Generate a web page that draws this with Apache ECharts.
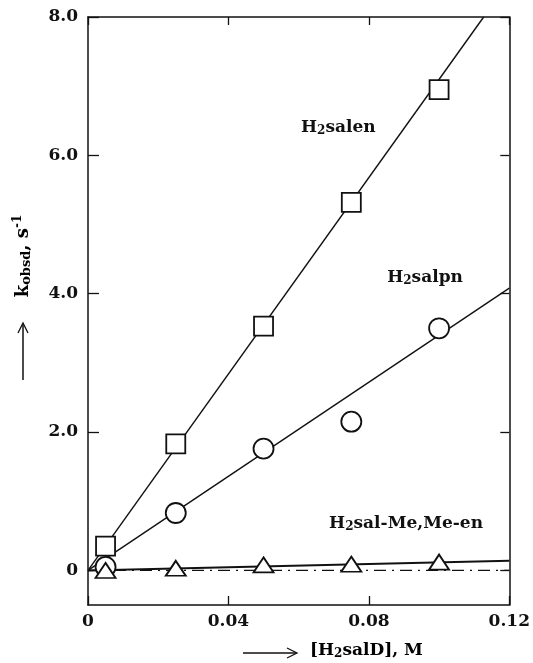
<!DOCTYPE html>
<html>
<head>
<meta charset="utf-8">
<script src="https://cdn.jsdelivr.net/npm/echarts@6/dist/echarts.min.js"></script>
<style>
  html, body { margin: 0; padding: 0; background: #fff; }
  #chart { width: 533px; height: 663px; }
</style>
</head>
<body>
<div id="chart"></div>
<script>
// measured points, x = [H2salD] (M), y = kobsd (s-1)
const concX = [0.005, 0.025, 0.05, 0.075, 0.1];
const salenY = [0.35, 1.83, 3.53, 5.32, 6.95];
const salpnY = [0.05, 0.83, 1.76, 2.15, 3.5];
const salMeY = [0.0, 0.03, 0.08, 0.09, 0.12];

// drawn straight lines (end points)
const salenFit = [[0, 0], [0.1127, 8.0]];
const salpnFit = [[0, 0], [0.12, 4.08]];
const salMeFit = [[0, 0], [0.12, 0.14]];
const zeroLine = [[0, 0], [0.12, 0]];

const yTicks = [0, 2, 4, 6, 8];

// curve labels: [x, y, text]
const notes = [
  [0.0713, 6.4, '{a|H}{s|2}{a|salen}'],
  [0.096, 4.23, '{a|H}{s|2}{a|salpn}'],
  [0.0906, 0.67, '{a|H}{s|2}{a|sal-Me,Me-en}']
];

const FONT = '"DejaVu Serif", "Liberation Serif", serif';
const INK = '#111';
const richTxt = {
  a: { fontFamily: FONT, fontWeight: 'bold', fontSize: 17, color: INK },
  s: { fontFamily: FONT, fontWeight: 'bold', fontSize: 12, color: INK, padding: [6, 0, 0, 0] }
};

function xLabel(v) {
  if (v === 0) return '0';
  return v.toFixed(2);
}
function yLabel(v) {
  if (v === 0) return '0';
  return v.toFixed(1);
}

let chart = echarts.init(document.getElementById('chart'));

const markerStyle = { color: '#fff', borderColor: INK, borderWidth: 1.8, opacity: 1 };
const fitStyle = { color: INK, width: 1.4 };

function pts(ys) {
  return concX.map((x, i) => [x, ys[i]]);
}

function frameAxis(extra) {
  return Object.assign({
    axisLine: { show: true, onZero: false, lineStyle: { color: INK, width: 1.5 } },
    splitLine: { show: false }
  }, extra);
}

const option = {
  animation: false,
  backgroundColor: '#fff',
  grid: { left: 88, right: 18, top: 17, bottom: 58 },
  xAxis: [
    frameAxis({
      type: 'value', min: 0, max: 0.12, interval: 0.04,
      axisTick: { show: true, inside: true, length: 9, lineStyle: { color: INK, width: 1.3 } },
      axisLabel: {
        formatter: xLabel, margin: 8, color: INK,
        fontFamily: FONT, fontWeight: 'bold', fontSize: 17
      }
    }),
    frameAxis({
      type: 'value', position: 'top', min: 0, max: 0.12, interval: 0.04,
      axisTick: { show: true, inside: true, length: 8, lineStyle: { color: INK, width: 1.3 } },
      axisLabel: { show: false }
    })
  ],
  yAxis: [
    frameAxis({
      type: 'value', min: -0.5, max: 8,
      axisTick: { show: true, inside: true, length: 11, customValues: yTicks, lineStyle: { color: INK, width: 1.3 } },
      axisLabel: {
        customValues: yTicks, formatter: yLabel, margin: 10, color: INK,
        fontFamily: FONT, fontWeight: 'bold', fontSize: 17
      }
    }),
    frameAxis({
      type: 'value', position: 'right', min: -0.5, max: 8,
      axisTick: { show: true, inside: true, length: 9, customValues: yTicks, lineStyle: { color: INK, width: 1.3 } },
      axisLabel: { show: false }
    })
  ],
  series: [
    { type: 'line', data: zeroLine, symbol: 'none', lineStyle: { color: INK, width: 1.2, type: [12, 6, 2, 6] }, z: 1 },
    { type: 'line', data: salenFit, symbol: 'none', lineStyle: fitStyle, z: 2 },
    { type: 'line', data: salpnFit, symbol: 'none', lineStyle: fitStyle, z: 2 },
    { type: 'line', data: salMeFit, symbol: 'none', lineStyle: { color: INK, width: 2 }, z: 2 },
    { type: 'scatter', data: pts(salenY), symbol: 'rect', symbolSize: 19, itemStyle: markerStyle, z: 5 },
    { type: 'scatter', data: pts(salpnY), symbol: 'circle', symbolSize: 20, itemStyle: markerStyle, z: 5 },
    { type: 'scatter', data: pts(salMeY), symbol: 'triangle', symbolSize: [20, 15], itemStyle: markerStyle, z: 6 },
    {
      type: 'scatter', symbolSize: 0, z: 7, itemStyle: { opacity: 1 },
      data: notes.map(n => ({ value: [n[0], n[1]], label: { formatter: n[2] } })),
      label: { show: true, position: 'inside', color: INK, rich: richTxt }
    }
  ],
  graphic: [
    // y title: arrow pointing up, then k_obsd, s^-1
    { type: 'line', shape: { x1: 23, y1: 380, x2: 23, y2: 324 }, style: { stroke: INK, lineWidth: 1.5 } },
    { type: 'polyline', shape: { points: [[18, 333], [23, 323], [28, 333]] }, style: { stroke: INK, lineWidth: 1.3, fill: null } },
    {
      type: 'text', x: 23, y: 256, rotation: Math.PI / 2,
      style: {
        text: '{a|k}{s|obsd}{a|, s}{p|-1}',
        align: 'center', verticalAlign: 'middle',
        rich: {
          a: { fontFamily: FONT, fontWeight: 'bold', fontSize: 18, color: INK },
          s: { fontFamily: FONT, fontWeight: 'bold', fontSize: 13, color: INK, padding: [7, 0, 0, 0] },
          p: { fontFamily: FONT, fontWeight: 'bold', fontSize: 12, color: INK, padding: [0, 0, 10, 0] }
        }
      }
    },
    // x title: arrow pointing right, then [H2salD], M
    { type: 'line', shape: { x1: 243, y1: 653, x2: 296, y2: 653 }, style: { stroke: INK, lineWidth: 1.5 } },
    { type: 'polyline', shape: { points: [[287, 648], [297, 653], [287, 658]] }, style: { stroke: INK, lineWidth: 1.3, fill: null } },
    {
      type: 'text', x: 310, y: 651,
      style: {
        text: '{a|[H}{s|2}{a|salD], M}',
        align: 'left', verticalAlign: 'middle',
        rich: {
          a: { fontFamily: FONT, fontWeight: 'bold', fontSize: 17, color: INK },
          s: { fontFamily: FONT, fontWeight: 'bold', fontSize: 12, color: INK, padding: [6, 0, 0, 0] }
        }
      }
    }
  ]
};

chart.setOption(option);
</script>
</body>
</html>
